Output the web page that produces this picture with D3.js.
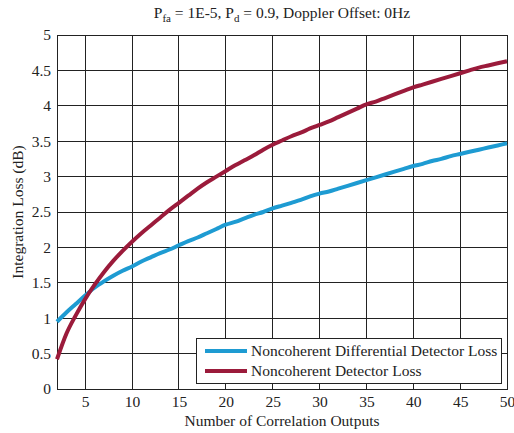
<!DOCTYPE html>
<html><head><meta charset="utf-8">
<script src="https://cdn.jsdelivr.net/npm/d3@7"></script>
<style>
body{margin:0;background:#fff;}
text{font-family:"Liberation Serif","Times New Roman",serif;fill:#222;}
</style></head>
<body><svg id="c" width="514" height="433"></svg>
<script>
const xValues = d3.range(2, 51);
const differentialLoss = [0.95,1.08,1.2,1.32,1.43,1.52,1.6,1.67,1.73,1.8,1.86,1.92,1.97,2.03,2.09,2.14,2.2,2.26,2.32,2.36,2.41,2.46,2.5,2.55,2.59,2.63,2.67,2.72,2.76,2.79,2.83,2.87,2.91,2.95,2.99,3.03,3.07,3.11,3.15,3.18,3.22,3.25,3.29,3.32,3.35,3.38,3.41,3.44,3.47];
const noncoherentLoss = [0.42,0.78,1.04,1.27,1.47,1.65,1.81,1.95,2.08,2.2,2.31,2.42,2.53,2.63,2.73,2.83,2.92,3.0,3.08,3.16,3.23,3.3,3.38,3.45,3.51,3.57,3.62,3.68,3.73,3.78,3.84,3.9,3.96,4.02,4.06,4.11,4.16,4.21,4.26,4.3,4.34,4.38,4.42,4.46,4.5,4.54,4.57,4.6,4.63];
const xTicks = [5,10,15,20,25,30,35,40,45,50];
const yTicks = [0,0.5,1,1.5,2,2.5,3,3.5,4,4.5,5];
const seriesNames = ["Noncoherent Differential Detector Loss","Noncoherent Detector Loss"];
const seriesColors = ["#1e9bd2","#9b1b3b"];

const FS=15.5;
const L=57,R=507,T=35,B=389;
const svg=d3.select("#c");
const x=d3.scaleLinear().domain([2,50]).range([L,R]);
const y=d3.scaleLinear().domain([0,5]).range([B,T]);

const g=svg.append("g");
g.selectAll(".gx").data(xTicks).join("line").attr("x1",d=>x(d)).attr("x2",d=>x(d)).attr("y1",T).attr("y2",B).attr("stroke","#222").attr("stroke-width",1).attr("shape-rendering","crispEdges");
g.selectAll(".gy").data(yTicks).join("line").attr("x1",L).attr("x2",R).attr("y1",d=>y(d)).attr("y2",d=>y(d)).attr("stroke","#222").attr("stroke-width",1).attr("shape-rendering","crispEdges");
svg.append("rect").attr("x",L).attr("y",T).attr("width",R-L).attr("height",B-T).attr("fill","none").attr("stroke","#222").attr("stroke-width",1).attr("shape-rendering","crispEdges");

const xa=svg.append("g").attr("transform",`translate(0,${B})`).call(d3.axisBottom(x).tickValues(xTicks).tickSize(0).tickPadding(7));
xa.select(".domain").remove();
xa.selectAll("text").attr("font-size",FS).attr("font-family","Liberation Serif").attr("fill","#222");
const ya=svg.append("g").attr("transform",`translate(${L},0)`).call(d3.axisLeft(y).tickValues(yTicks).tickSize(0).tickPadding(6).tickFormat(d3.format("")));
ya.select(".domain").remove();
ya.selectAll("text").attr("font-size",FS).attr("font-family","Liberation Serif").attr("fill","#222");

const line=d3.line().x((d,i)=>x(xValues[i])).y(d=>y(d)).curve(d3.curveMonotoneX);
[differentialLoss,noncoherentLoss].forEach((s,i)=>{
  svg.append("path").attr("d",line(s)).attr("fill","none").attr("stroke",seriesColors[i]).attr("stroke-width",4).attr("stroke-linejoin","round");
});

const t=svg.append("text").attr("x",282).attr("y",18).attr("text-anchor","middle").attr("font-size",FS);
t.append("tspan").text("P");
t.append("tspan").text("fa").attr("font-size",11).attr("dy",4);
t.append("tspan").text(" = 1E-5, P").attr("dy",-4);
t.append("tspan").text("d").attr("font-size",11).attr("dy",4);
t.append("tspan").text(" = 0.9, Doppler Offset: 0Hz").attr("dy",-4);

svg.append("text").attr("x",282).attr("y",426).attr("text-anchor","middle").attr("font-size",FS).text("Number of Correlation Outputs");
svg.append("text").attr("transform","translate(23,212) rotate(-90)").attr("text-anchor","middle").attr("font-size",FS).text("Integration Loss (dB)");

svg.append("rect").attr("x",196).attr("y",338).attr("width",305).attr("height",45).attr("fill","#fff").attr("stroke","#222").attr("stroke-width",1).attr("shape-rendering","crispEdges");
seriesNames.forEach((n,i)=>{
  const yy=351+i*20;
  svg.append("line").attr("x1",205).attr("x2",247).attr("y1",yy).attr("y2",yy).attr("stroke",seriesColors[i]).attr("stroke-width",4);
  svg.append("text").attr("x",251).attr("y",yy+5).attr("font-size",FS).text(n);
});
</script></body></html>
